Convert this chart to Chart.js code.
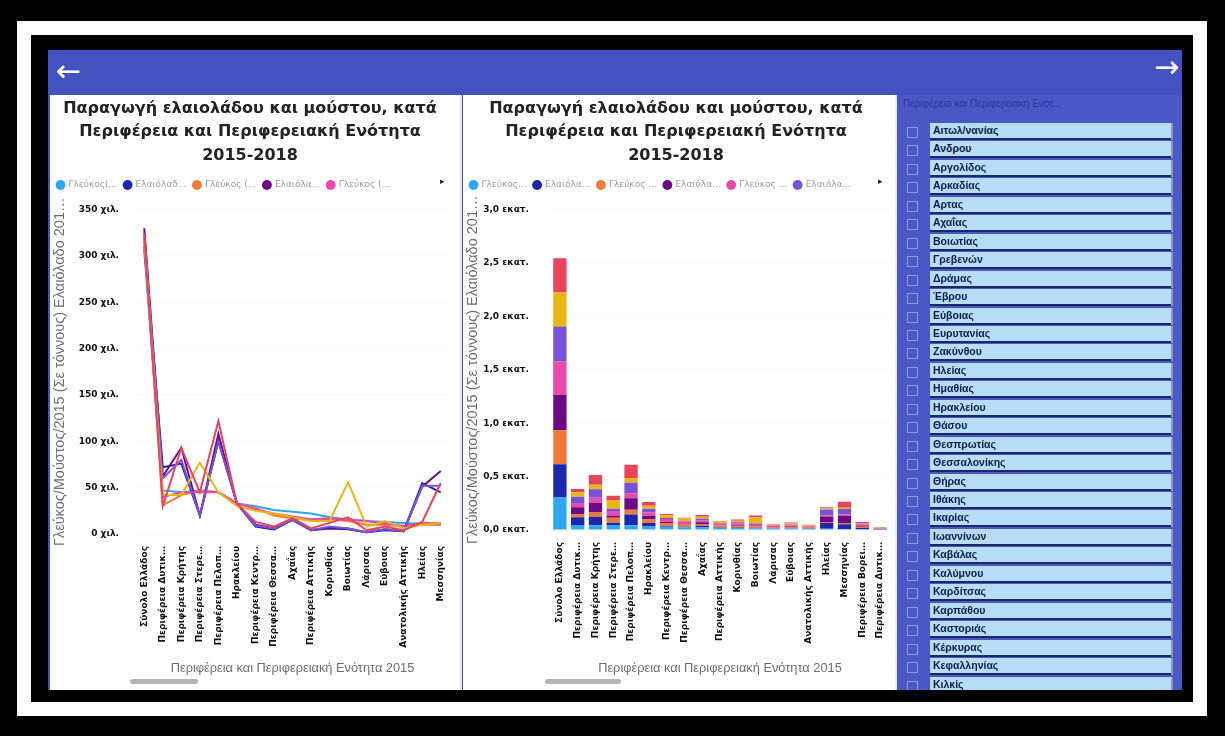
<!DOCTYPE html>
<html lang="el">
<head>
<meta charset="utf-8">
<title>Παραγωγή ελαιολάδου και μούστου</title>
<script src="https://cdn.jsdelivr.net/npm/chart.js@4.4.1/dist/chart.umd.min.js"></script>
<style>
  html, body { margin: 0; padding: 0; background: #000; width: 1225px; height: 736px; overflow: hidden; font-family: "Liberation Sans", Arial, sans-serif; }
  #frame { position: absolute; left: 17px; top: 21px; width: 1162px; height: 667px; border: 14px solid #fff; background: #000; }
  #dash { position: absolute; left: 48px; top: 50px; width: 1134px; height: 640px; background: #4452c0; overflow: hidden; }
  .arrow { position: absolute; color: #fff; font-family: "DejaVu Sans", sans-serif; font-size: 30px; line-height: 30px; }
  .panel { position: absolute; top: 45px; height: 595px; background: #fff; }
  .more { position: absolute; top: 126px; font-size: 9px; color: #222; }
  .scroll { position: absolute; top: 629px; height: 5px; border-radius: 3px; background: #b4b4b4; }
  #slicer { position: absolute; left: 849px; top: 45px; width: 285px; height: 595px; background: #4a57c5; }
  #slicer .head { position: absolute; left: 6px; top: 3px; font-size: 10px; color: #2b3a9e; white-space: nowrap; }
  #slicer .row { position: absolute; left: 0; height: 18px; width: 285px; }
  #slicer .box { position: absolute; left: 10px; top: 4px; width: 9px; height: 9px; border: 1px solid #8d9ae0; }
  #slicer .item { position: absolute; left: 33px; top: 0; width: 238px; height: 15px; background: #b6dcf8; border-bottom: 2px solid #1c2766; box-shadow: 2px 0 0 #8f98b8;
                  font-weight: bold; font-size: 10.5px; line-height: 15px; color: #0c1a48; padding-left: 3px; box-sizing: content-box; }
</style>
</head>
<body>
<div id="frame"></div>
<div id="dash">
  <div class="arrow" style="left:8px; top:6px;">←</div>
  <div class="arrow" style="left:1106px; top:2px;">→</div>
  <div class="panel" style="left:2px; width:410px; border-right:2px solid #dfe3ef;">
    <canvas id="lineChart" width="410" height="595"></canvas>
  </div>
  <div class="panel" style="left:415px; width:432px; border-right:2px solid #e6e9f2;">
    <canvas id="barChart" width="432" height="595"></canvas>
  </div>
  <div class="more" style="left:392px;">▸</div>
  <div class="more" style="left:830px;">▸</div>
  <div class="scroll" style="left:82px; width:68px;"></div>
  <div class="scroll" style="left:497px; width:76px;"></div>
  <div id="slicer"><div class="head">Περιφέρεια και Περιφερειακή Ενότ...</div></div>
</div>
<script>
// κατηγορίες (Περιφέρεια και Περιφερειακή Ενότητα 2015)
const categories = [
  'Σύνολο Ελλάδος', 'Περιφέρεια Δυτικ…', 'Περιφέρεια Κρήτης', 'Περιφέρεια Στερε…',
  'Περιφέρεια Πελοπ…', 'Ηρακλείου', 'Περιφέρεια Κεντρ…', 'Περιφέρεια Θεσσα…',
  'Αχαΐας', 'Περιφέρεια Αττικής', 'Κορινθίας', 'Βοιωτίας', 'Λάρισας', 'Εύβοιας',
  'Ανατολικής Αττικής', 'Ηλείας', 'Μεσσηνίας', 'Περιφέρεια Βορει…', 'Περιφέρεια Δυτικ…'
];
const lineVisible = 17; // το γράφημα γραμμών είναι κυλισμένο, φαίνονται 17

const seriesNames = [
  'Γλεύκος/Μούστος 2015 (Σε τόννους)', 'Ελαιόλαδο 2015 (Σε τόννους)',
  'Γλεύκος/Μούστος 2016 (Σε τόννους)', 'Ελαιόλαδο 2016 (Σε τόννους)',
  'Γλεύκος/Μούστος 2017 (Σε τόννους)', 'Ελαιόλαδο 2017 (Σε τόννους)',
  'Γλεύκος/Μούστος 2018 (Σε τόννους)', 'Ελαιόλαδο 2018 (Σε τόννους)'
];
const seriesColors = ['#2fa6f0', '#1c27ad', '#f2783a', '#6c0a86', '#ea4aa9', '#7a52d8', '#e8b812', '#e8455a'];

// τιμές σε χιλ. τόννους
const glefkos2015 = [305, 47, 45, 47, 45, 33, 30, 26, 24, 22, 18, 16, 14, 13, 12, 11, 10, 8, 3];
const elaiolado2015 = [310, 72, 76, 20, 100, 33, 8, 5, 15, 4, 6, 5, 2, 4, 3, 55, 45, 10, 1];
const glefkos2016 = [320, 31, 42, 47, 45, 33, 28, 20, 17, 15, 16, 14, 10, 10, 8, 10, 10, 12, 5];
const elaiolado2016 = [330, 62, 93, 20, 108, 33, 10, 6, 16, 4, 7, 6, 2, 5, 3, 51, 68, 8, 1];
const glefkos2017 = [315, 40, 45, 45, 45, 33, 27, 22, 19, 16, 17, 15, 14, 11, 9, 12, 12, 14, 5];
const elaiolado2017 = [325, 60, 80, 20, 100, 33, 9, 6, 15, 4, 8, 6, 2, 5, 3, 52, 52, 8, 2];
const glefkos2018 = [318, 42, 42, 77, 45, 30, 25, 22, 18, 14, 14, 56, 8, 14, 6, 10, 12, 5, 4];
const elaiolado2018 = [322, 30, 93, 45, 122, 33, 13, 8, 17, 6, 12, 18, 4, 8, 4, 13, 55, 10, 4];
const allSeries = [glefkos2015, elaiolado2015, glefkos2016, elaiolado2016, glefkos2017, elaiolado2017, glefkos2018, elaiolado2018];

const titleLines = ['Παραγωγή ελαιολάδου και μούστου, κατά', 'Περιφέρεια και Περιφερειακή Ενότητα', '2015-2018'];
const legendLeft = ['Γλεύκος(...', 'Ελαιόλαδ...', 'Γλεύκος (...', 'Ελαιόλα...', 'Γλεύκος (...'];
const legendRight = ['Γλεύκος...', 'Ελαιόλα...', 'Γλεύκος ...', 'Ελαιόλα...', 'Γλεύκος ...', 'Ελαιόλα...'];
const leftTicks = ['0 χιλ.', '50 χιλ.', '100 χιλ.', '150 χιλ.', '200 χιλ.', '250 χιλ.', '300 χιλ.', '350 χιλ.'];
const rightTicks = ['0,0 εκατ.', '0,5 εκατ.', '1,0 εκατ.', '1,5 εκατ.', '2,0 εκατ.', '2,5 εκατ.', '3,0 εκατ.'];
const yTitle = 'Γλεύκος/Μούστος/2015 (Σε τόννους) Ελαιόλαδο 201…';
const xTitle = 'Περιφέρεια και Περιφερειακή Ενότητα 2015';

const slicerItems = [
  'Αιτωλ/νανίας', 'Ανδρου', 'Αργολίδος', 'Αρκαδίας', 'Αρτας', 'Αχαΐας', 'Βοιωτίας', 'Γρεβενών',
  'Δράμας', 'Έβρου', 'Εύβοιας', 'Ευρυτανίας', 'Ζακύνθου', 'Ηλείας', 'Ημαθίας', 'Ηρακλείου',
  'Θάσου', 'Θεσπρωτίας', 'Θεσσαλονίκης', 'Θήρας', 'Ιθάκης', 'Ικαρίας', 'Ιωαννίνων', 'Καβάλας',
  'Καλύμνου', 'Καρδίτσας', 'Καρπάθου', 'Καστοριάς', 'Κέρκυρας', 'Κεφαλληνίας', 'Κιλκίς'
];

// λίστα φίλτρου
const slicer = document.getElementById('slicer');
slicerItems.forEach((name, i) => {
  const row = document.createElement('div');
  row.className = 'row';
  row.style.top = (28 + i * 18.45) + 'px';
  row.innerHTML = '<div class="box"></div><div class="item">' + name + '</div>';
  slicer.appendChild(row);
});

Chart.defaults.font.family = '"DejaVu Sans", "Liberation Sans", sans-serif';
Chart.defaults.animation = false;

// κενό κάτω από το υπόμνημα
const legendGap = {
  id: 'legendGap',
  beforeInit(chart) {
    const fit = chart.legend.fit;
    chart.legend.fit = function () {
      fit.bind(chart.legend)();
      this.height += 10;
    };
  }
};

function makeOptions(legendText, ticks, yMax, yStep, yWidth, xHeight, padRight, tickPad) {
  return {
    responsive: false,
    layout: { padding: { left: 0, right: padRight, top: 0, bottom: 10 } },
    plugins: {
      title: {
        display: true, text: titleLines, color: '#222',
        font: { size: 16, weight: 'bold', lineHeight: 1.47 },
        padding: { top: 2, bottom: 6 }
      },
      legend: {
        position: 'top', align: 'start',
        labels: {
          usePointStyle: true, boxWidth: 7, boxHeight: 7, padding: 7,
          color: '#9b9b9b', font: { size: 9 },
          generateLabels: chart => legendText.map((t, i) => ({
            text: t, fillStyle: seriesColors[i], strokeStyle: seriesColors[i],
            lineWidth: 0, pointStyle: 'circle', datasetIndex: i, fontColor: '#9b9b9b'
          }))
        }
      },
      tooltip: { enabled: false }
    },
    scales: {
      x: {
        offset: true,
        grid: { display: false },
        border: { display: false },
        ticks: {
          autoSkip: false, minRotation: 90, maxRotation: 90, padding: 4,
          color: '#111', font: { size: 9, weight: 'bold' }
        },
        title: {
          display: true, text: xTitle, color: '#6e6e6e',
          font: { size: 12.8, family: '"Liberation Sans", Arial, sans-serif' },
          padding: { top: 4, bottom: 4 }
        },
        afterFit: s => { s.height = xHeight; }
      },
      y: {
        min: 0, max: yMax,
        grid: { color: 'rgba(0,0,0,0.025)', drawTicks: false },
        border: { display: false },
        ticks: {
          stepSize: yStep, padding: tickPad,
          color: '#111', font: { size: 9, weight: 'bold' },
          callback: (v, i) => ticks[i]
        },
        title: {
          display: true, text: yTitle, color: '#6e6e6e',
          font: { size: 14.5, family: '"Liberation Sans", Arial, sans-serif' },
          padding: { top: 1, bottom: 2 }
        },
        afterFit: s => { s.width = yWidth; }
      }
    }
  };
}

// γράφημα γραμμών
new Chart(document.getElementById('lineChart'), {
  type: 'line',
  data: {
    labels: categories.slice(0, lineVisible),
    datasets: allSeries.map((vals, i) => ({
      label: seriesNames[i],
      data: vals.slice(0, lineVisible),
      borderColor: seriesColors[i],
      backgroundColor: seriesColors[i],
      borderWidth: 2,
      pointRadius: 0,
      tension: 0,
      order: allSeries.length - i
    }))
  },
  options: makeOptions(legendLeft, leftTicks, 350, 50, 85, 146, 10, 16),
  plugins: [legendGap]
});

// στοιβαγμένο γράφημα ράβδων
const barOpts = makeOptions(legendRight, rightTicks, 3000, 500, 88, 150, 6, 22);
barOpts.scales.x.stacked = true;
barOpts.scales.y.stacked = true;
new Chart(document.getElementById('barChart'), {
  type: 'bar',
  data: {
    labels: categories,
    datasets: allSeries.map((vals, i) => ({
      label: seriesNames[i],
      data: vals,
      backgroundColor: seriesColors[i],
      borderWidth: 0,
      barPercentage: 0.75,
      categoryPercentage: 1
    }))
  },
  options: barOpts,
  plugins: [legendGap]
});
</script>
</body>
</html>
